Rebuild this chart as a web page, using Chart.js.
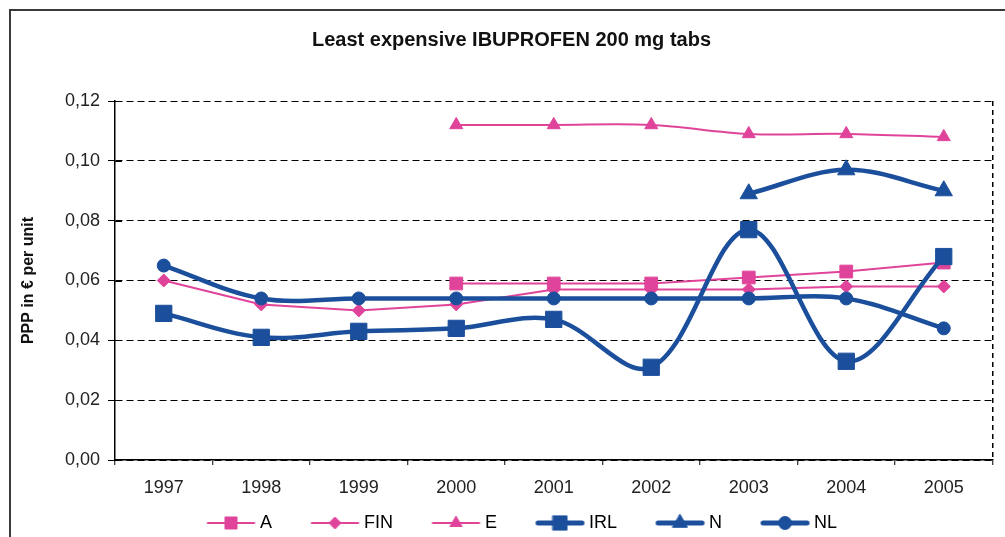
<!DOCTYPE html>
<html>
<head>
<meta charset="utf-8">
<title>Least expensive IBUPROFEN 200 mg tabs</title>
<script src="https://cdn.jsdelivr.net/npm/chart.js@4.4.1/dist/chart.umd.min.js"></script>
<style>
  html, body { margin: 0; padding: 0; background: #fff; }
  #wrap { position: relative; width: 1005px; height: 537px; overflow: hidden; }
  #frame { position: absolute; left: 9px; top: 9px; width: 1100px; height: 600px;
           border-left: 2px solid #3a3a3a; border-top: 2px solid #3a3a3a; }
  #chart { position: absolute; left: 0; top: 0; }
</style>
</head>
<body>
<div id="wrap">
  <div id="frame"></div>
  <canvas id="chart" width="1005" height="537"></canvas>
</div>
<script>
// Data
const years = ['1997', '1998', '1999', '2000', '2001', '2002', '2003', '2004', '2005'];
const valuesA   = [null, null, null, 0.059, 0.059, 0.059, 0.061, 0.063, 0.066];
const valuesFIN = [0.060, 0.052, 0.050, 0.052, 0.057, 0.057, 0.057, 0.058, 0.058];
const valuesE   = [null, null, null, 0.112, 0.112, 0.112, 0.109, 0.109, 0.108];
const valuesIRL = [0.049, 0.041, 0.043, 0.044, 0.047, 0.031, 0.077, 0.033, 0.068];
const valuesN   = [null, null, null, null, null, null, 0.089, 0.097, 0.090];
const valuesNL  = [0.065, 0.054, 0.054, 0.054, 0.054, 0.054, 0.054, 0.054, 0.044];
const yTicks = [0, 0.02, 0.04, 0.06, 0.08, 0.10, 0.12];
const yTickLabels = ['0,00', '0,02', '0,04', '0,06', '0,08', '0,10', '0,12'];

const PINK = '#e0449a';
const BLUE = '#1b4f9c';
const FONT = "'Liberation Sans', Arial, sans-serif";

// legend geometry: box width, padding between items, drawn line length
const LEG_PAD = 18;
const LEG_BOX = 65;
const LEG_LINE = 48;

// small canvas with line + marker, used as legend symbol
// (drawn centred on the legend box, line ends 5px before the text)
function legendIcon(color, lineWidth, style, radius, round) {
    const c = document.createElement('canvas');
    c.width = 80;
    c.height = 24;
    const g = c.getContext('2d');
    const mid = c.width / 2;
    const end = mid + LEG_BOX / 2 + 4;
    const start = end - LEG_LINE;
    g.strokeStyle = color;
    g.fillStyle = color;
    g.lineWidth = lineWidth;
    g.lineCap = round ? 'round' : 'butt';
    g.beginPath();
    g.moveTo(round ? start + 2 : start, 12);
    g.lineTo(round ? end - 2 : end, 12);
    g.stroke();
    g.lineWidth = 1;
    if (Chart.helpers && Chart.helpers.drawPoint) {
        Chart.helpers.drawPoint(g, { pointStyle: style, radius: radius, borderWidth: 1, rotation: 0 }, (start + end) / 2, 12);
    }
    return c;
}

function series(label, data, color, style, radius, width, tension, order, icon) {
    return {
        label: label,
        data: data,
        borderColor: color,
        backgroundColor: color,
        pointBackgroundColor: color,
        pointBorderColor: color,
        pointBorderWidth: 1,
        pointStyle: style,
        pointRadius: radius,
        borderWidth: width,
        tension: tension,
        borderCapStyle: 'round',
        borderJoinStyle: 'round',
        order: order,
        icon: icon
    };
}

const datasets = [
    series('A',   valuesA,   PINK, 'rect',     9,    2,   0,    2, legendIcon(PINK, 2, 'rect', 8.5, false)),
    series('FIN', valuesFIN, PINK, 'rectRot',  6.5,  2,   0,    2, legendIcon(PINK, 2, 'rectRot', 6, false)),
    series('E',   valuesE,   PINK, 'triangle', 7.5,  2,   0.35, 2, legendIcon(PINK, 2, 'triangle', 7, false)),
    series('IRL', valuesIRL, BLUE, 'rect',     11.5, 4.5, 0.35, 1, legendIcon(BLUE, 5, 'rect', 10, true)),
    series('N',   valuesN,   BLUE, 'triangle', 10,   4.5, 0.35, 1, legendIcon(BLUE, 5, 'triangle', 8.5, true)),
    series('NL',  valuesNL,  BLUE, 'circle',   6.5,  4.5, 0.35, 1, legendIcon(BLUE, 5, 'circle', 6.5, true))
];

// y ticks cross the axis: draw the part inside the plot
const innerTicks = {
    id: 'innerTicks',
    beforeDatasetsDraw(chart) {
        const { ctx, chartArea, scales } = chart;
        ctx.save();
        ctx.strokeStyle = '#000';
        ctx.lineWidth = 1;
        scales.y.ticks.forEach(t => {
            const py = Math.round(scales.y.getPixelForValue(t.value)) + 0.5;
            ctx.beginPath();
            ctx.moveTo(chartArea.left, py);
            ctx.lineTo(chartArea.left + 7, py);
            ctx.stroke();
        });
        ctx.restore();
    }
};

new Chart(document.getElementById('chart'), {
    type: 'line',
    data: { labels: years, datasets: datasets },
    plugins: [innerTicks],
    options: {
        responsive: false,
        animation: false,
        devicePixelRatio: 1,
        layout: { padding: { left: 29, right: 11, top: 0, bottom: -5 } },
        scales: {
            x: {
                offset: true,
                afterFit: s => { s.height = 36; },
                ticks: { font: { family: FONT, size: 18 }, color: '#222', padding: 12, maxRotation: 0, autoSkip: false },
                grid: {
                    offset: true,
                    drawOnChartArea: true,
                    color: ctx => ctx.type === 'tick' ? 'rgba(0,0,0,0)' : '#000',
                    lineWidth: 1.5,
                    tickLength: 5,
                    tickColor: '#000',
                    tickWidth: 1
                },
                border: { color: '#000', width: 1.5, dash: [5, 4] }
            },
            y: {
                min: 0,
                max: 0.12,
                afterBuildTicks: s => { s.ticks = yTicks.map(v => ({ value: v })); },
                afterFit: s => { s.width = 86; },
                ticks: {
                    callback: (v, i) => yTickLabels[i],
                    font: { family: FONT, size: 18 },
                    color: '#222',
                    padding: 8
                },
                grid: { color: '#000', lineWidth: 1, tickLength: 7, tickColor: '#000', tickWidth: 1 },
                border: { color: '#000', width: 1.5, dash: [7, 4] },
                title: {
                    display: true,
                    text: 'PPP in € per unit',
                    font: { family: FONT, size: 16, weight: 'bold' },
                    color: '#111',
                    padding: { top: -9.6, bottom: 0 }
                }
            }
        },
        plugins: {
            title: {
                display: true,
                text: 'Least expensive IBUPROFEN 200 mg tabs',
                font: { family: FONT, size: 20, weight: 'bold' },
                color: '#111',
                padding: { top: 28, bottom: 49 }
            },
            legend: {
                position: 'bottom',
                labels: {
                    usePointStyle: true,
                    pointStyleWidth: LEG_BOX,
                    boxHeight: 18,
                    padding: LEG_PAD,
                    font: { family: FONT, size: 18 },
                    color: '#222',
                    generateLabels: chart => chart.data.datasets.map((ds, i) => ({
                        text: ds.label,
                        pointStyle: ds.icon,
                        fillStyle: ds.borderColor,
                        strokeStyle: ds.borderColor,
                        lineWidth: 0,
                        hidden: false,
                        datasetIndex: i
                    }))
                }
            },
            tooltip: { enabled: false }
        }
    }
});
</script>
</body>
</html>
